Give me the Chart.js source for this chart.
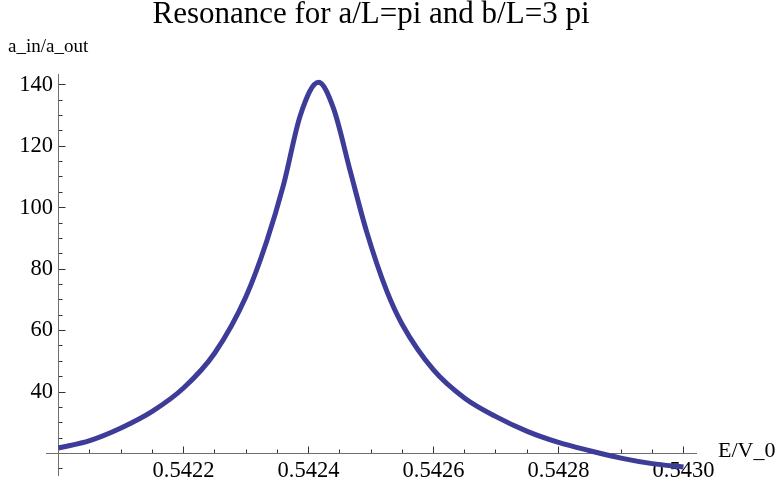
<!DOCTYPE html>
<html>
<head>
<meta charset="utf-8">
<script src="https://cdn.jsdelivr.net/npm/chart.js@4.4.1/dist/chart.umd.min.js"></script>
<style>
html,body{margin:0;padding:0;background:#ffffff;}
#wrap{width:779px;height:486px;position:relative;}
</style>
</head>
<body>
<div id="wrap"><canvas id="c"></canvas></div>
<script>
// ---- data ----
const energy = [0.54200, 0.54205, 0.54210, 0.54215, 0.54220, 0.54225, 0.54230, 0.542333,
  0.54236, 0.542387, 0.542416, 0.54244, 0.542467, 0.542493, 0.542525, 0.54255,
  0.54260, 0.54265, 0.54270, 0.54275, 0.54280, 0.54285, 0.54290, 0.54295, 0.54300];
const ratio = [21.8, 24.2, 28.3, 33.7, 41.3, 52.7, 71.1, 89.0,
  107.4, 130.1, 140.8, 132.3, 111.7, 92.2, 73.0, 62.0,
  47.2, 38.0, 32.0, 27.2, 23.6, 20.9, 18.5, 16.7, 15.6];

const xMajorTicks = [0.5422, 0.5424, 0.5426, 0.5428, 0.5430];
const xTickLabels = ['0.5422', '0.5424', '0.5426', '0.5428', '0.5430'];
const xMinorTicks = [0.54205, 0.54210, 0.54215, 0.54225, 0.54230, 0.54235, 0.54245, 0.54250, 0.54255,
  0.54265, 0.54270, 0.54275, 0.54285, 0.54290, 0.54295];
const yMajorTicks = [40, 60, 80, 100, 120, 140];
const yTickLabels = ['40', '60', '80', '100', '120', '140'];
const yMinorTicks = [15, 25, 30, 35, 45, 50, 55, 65, 70, 75, 85, 90, 95, 105, 110, 115, 125, 130, 135];

const titleText = 'Resonance for a/L=pi and b/L=3 pi';
const xAxisLabel = 'E/V_0';
const yAxisLabel = 'a_in/a_out';

// ---- styling ----
const SERIF = "'Liberation Serif', 'Times New Roman', 'DejaVu Serif', serif";
const X_CROSS = 0.5420;   // where the y axis crosses
const Y_CROSS = 20;       // where the x axis crosses
const AXIS_COLOR = '#6e6e6e';
const TICK_COLOR = '#333333';

const axisLabelsPlugin = {
  id: 'axisLabels',
  afterDraw(chart) {
    const ctx = chart.ctx;
    const xs = chart.scales.x, ys = chart.scales.y;
    ctx.save();
    ctx.fillStyle = '#000';
    ctx.textBaseline = 'middle';
    ctx.font = "22px " + SERIF;
    ctx.textAlign = 'left';
    ctx.fillText(xAxisLabel, xs.right + 22, ys.getPixelForValue(Y_CROSS) - 2);
    ctx.font = "19px " + SERIF;
    ctx.fillText(yAxisLabel, 8, chart.chartArea.top - 27);
    ctx.restore();
  }
};

const markScale = (axis, ticksArr, len, pos, extra) => Object.assign({
  type: 'linear',
  axis: axis,
  position: pos,
  afterBuildTicks: (s) => { s.ticks = ticksArr.map(v => ({value: v})); },
  ticks: {display: false},
  grid: {drawOnChartArea: false, drawTicks: true, tickLength: len, tickColor: TICK_COLOR, tickWidth: 1},
  border: {display: true, color: AXIS_COLOR, width: 1}
}, extra);

const xMin = 0.54198, xMax = 0.54302, yMin = 13, yMax = 143.5;

new Chart(document.getElementById('c'), {
  type: 'line',
  data: {
    datasets: [{
      data: energy.map((e, i) => ({x: e, y: ratio[i]})),
      borderColor: '#3d3d99',
      borderWidth: 5,
      pointRadius: 0,
      fill: false,
      cubicInterpolationMode: 'monotone',
      xAxisID: 'x',
      yAxisID: 'y'
    }]
  },
  options: {
    responsive: true,
    maintainAspectRatio: false,
    devicePixelRatio: 1,
    animation: false,
    events: [],
    layout: {padding: {left: 46, right: 83, top: 0, bottom: 11}},
    plugins: {
      legend: {display: false},
      tooltip: {enabled: false},
      title: {
        display: true,
        text: titleText,
        color: '#000',
        font: {family: SERIF, size: 31, weight: 'normal'},
        padding: {top: -3.5, bottom: 40.3}
      }
    },
    scales: {
      x: {
        type: 'linear',
        min: xMin, max: xMax,
        position: {y: Y_CROSS},
        afterBuildTicks: (s) => { s.ticks = xMajorTicks.map(v => ({value: v})); },
        ticks: {
          display: true,
          autoSkip: false,
          maxRotation: 0,
          padding: 12,
          color: '#000',
          font: {family: SERIF, size: 22.5},
          callback: (v, i) => xTickLabels[i]
        },
        grid: {drawOnChartArea: false, drawTicks: true, tickLength: -7.5, tickColor: TICK_COLOR, tickWidth: 1},
        border: {display: true, color: AXIS_COLOR, width: 1}
      },
      xMinor: markScale('x', xMinorTicks, -4.5, {y: Y_CROSS}, {min: xMin, max: xMax}),
      y: {
        type: 'linear',
        min: yMin, max: yMax,
        position: {x: X_CROSS},
        afterBuildTicks: (s) => { s.ticks = yMajorTicks.map(v => ({value: v})); },
        ticks: {
          display: true,
          autoSkip: false,
          padding: -3,
          color: '#000',
          font: {family: SERIF, size: 22.5},
          callback: (v, i) => yTickLabels[i] + ' '
        },
        grid: {drawOnChartArea: false, drawTicks: true, tickLength: -7.5, tickColor: TICK_COLOR, tickWidth: 1},
        border: {display: true, color: AXIS_COLOR, width: 1}
      },
      yMinor: markScale('y', yMinorTicks, -4.5, {x: X_CROSS}, {min: yMin, max: yMax})
    }
  },
  plugins: [axisLabelsPlugin]
});
</script>
</body>
</html>
